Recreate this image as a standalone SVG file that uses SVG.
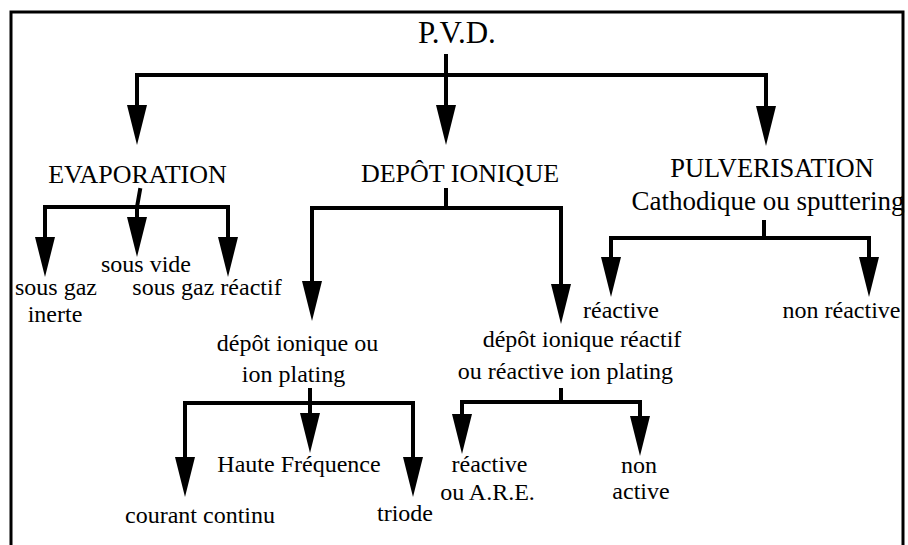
<svg xmlns="http://www.w3.org/2000/svg" xmlns:xlink="http://www.w3.org/1999/xlink" width="908" height="545" viewBox="0 0 908 545" font-family="'Liberation Serif', 'DejaVu Serif', serif">
  <style>
    text { font-family: "Liberation Serif", "DejaVu Serif", serif; fill: #000; }
    .h { font-size: 26px; text-anchor: middle; }
    .s { font-size: 24px; text-anchor: middle; }
    .ln { stroke: #000; stroke-width: 4; fill: none; stroke-linejoin: miter; stroke-linecap: square; }
    .fr { stroke: #000; stroke-width: 3; fill: none; }
  </style>
  <defs>
    <path id="ah" d="M-10,0 L10,0 L0,40 Z" fill="#000"/>
  </defs>
  <rect width="908" height="545" fill="#fff"/>
  <g id="frame">
    <path class="fr" d="M11,545 L11,12 L903,12 L903,545"/>
  </g>

  <g id="connectors">
    <path class="ln" d="M446,56 V75 M137,106 V75 H766 V106 M446,75 V106"/>
    <use xlink:href="#ah" x="137" y="105"/>
    <use xlink:href="#ah" x="446" y="105"/>
    <use xlink:href="#ah" x="766" y="106"/>
    <path class="ln" d="M140,190 L137,207 M45,238 V207 H228 V238 M137,207 V218"/>
    <use xlink:href="#ah" x="45" y="237"/>
    <use xlink:href="#ah" x="137" y="217"/>
    <use xlink:href="#ah" x="228" y="237"/>
    <path class="ln" d="M446,190 V208 M312,281 V208 H561 V284"/>
    <use xlink:href="#ah" x="312" y="281"/>
    <use xlink:href="#ah" x="561" y="284"/>
    <path class="ln" d="M764,222 V238 M611,259 V238 H869 V259"/>
    <use xlink:href="#ah" x="611" y="257"/>
    <use xlink:href="#ah" x="869" y="257"/>
    <path class="ln" d="M310,390 V403 M185,456 V403 H413 V456 M310,403 V414"/>
    <use xlink:href="#ah" x="185" y="457"/>
    <use xlink:href="#ah" x="310" y="413"/>
    <use xlink:href="#ah" x="413" y="457"/>
    <path class="ln" d="M561,390 V402 M462,414 V402 H640 V416"/>
    <use xlink:href="#ah" x="462" y="414"/>
    <use xlink:href="#ah" x="640" y="416"/>
  </g>

  <g id="pvd"><text x="418" y="43" font-size="31">P.V.D.</text></g>
  <g id="evaporation"><text class="h" x="137.5" y="183">EVAPORATION</text></g>
  <g id="depot-ionique"><text class="h" x="460" y="182">DEPÔT IONIQUE</text></g>
  <g id="pulverisation">
    <text class="h" x="772" y="177" style="font-size:26.5px">PULVERISATION</text>
    <text class="h" x="768" y="210" style="font-size:27px">Cathodique ou sputtering</text>
  </g>
  <g id="sous-gaz-inerte">
    <text class="s" x="56" y="295">sous gaz</text>
    <text class="s" x="55" y="322">inerte</text>
  </g>
  <g id="sous-vide"><text class="s" x="146" y="272">sous vide</text></g>
  <g id="sous-gaz-reactif"><text class="s" x="207" y="295">sous gaz réactif</text></g>
  <g id="ion-plating">
    <text class="s" x="297.5" y="351">dépôt ionique ou</text>
    <text class="s" x="293.5" y="382">ion plating</text>
  </g>
  <g id="reactive-ion-plating">
    <text class="s" x="582" y="347">dépôt ionique réactif</text>
    <text class="s" x="565.5" y="379">ou réactive ion plating</text>
  </g>
  <g id="pulv-reactive"><text class="s" x="621" y="318">réactive</text></g>
  <g id="pulv-non-reactive"><text class="s" x="841.5" y="318">non réactive</text></g>
  <g id="haute-frequence"><text class="s" x="299" y="472">Haute Fréquence</text></g>
  <g id="courant-continu"><text class="s" x="200" y="523">courant continu</text></g>
  <g id="triode"><text class="s" x="405" y="521">triode</text></g>
  <g id="are">
    <text class="s" x="489.5" y="472">réactive</text>
    <text class="s" x="487.5" y="500">ou A.R.E.</text>
  </g>
  <g id="non-active">
    <text class="s" x="639" y="473">non</text>
    <text class="s" x="641" y="499">active</text>
  </g>
</svg>
